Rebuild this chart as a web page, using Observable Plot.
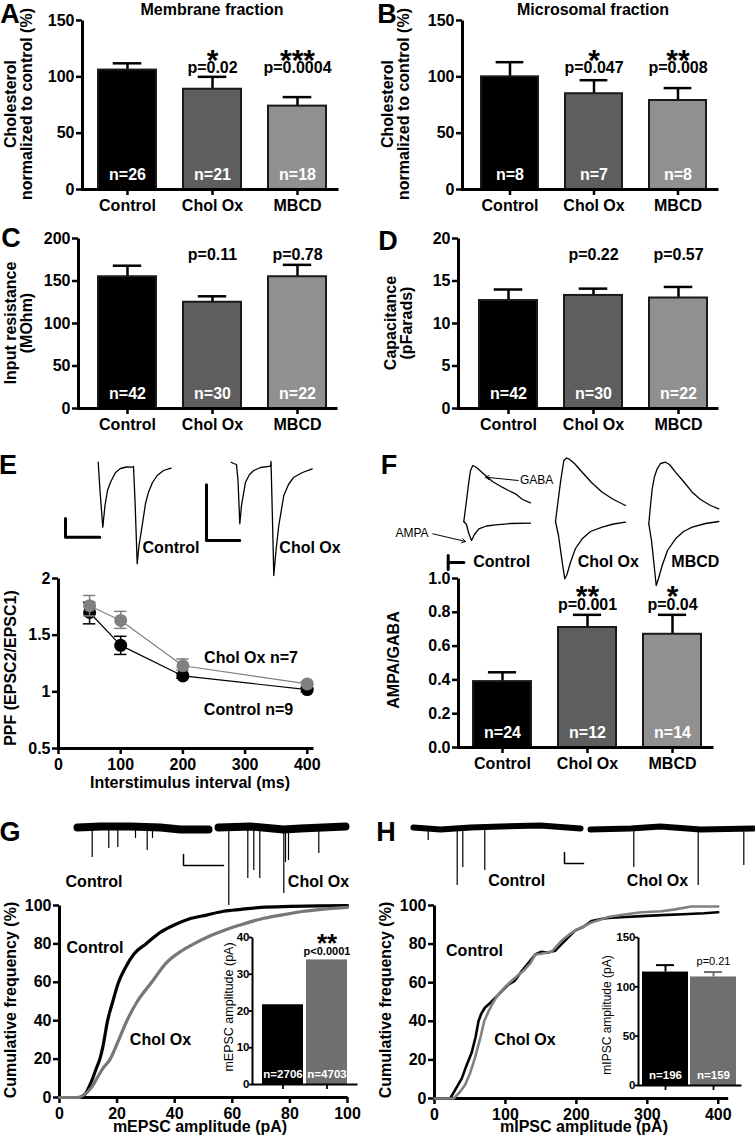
<!DOCTYPE html>
<html><head><meta charset="utf-8">
<script src="https://cdn.jsdelivr.net/npm/d3@7"></script>
<script src="https://cdn.jsdelivr.net/npm/@observablehq/plot@0.6"></script>
<style>
html,body{margin:0;padding:0;background:#fff;}
#root{position:relative;width:755px;height:1139px;overflow:hidden;background:#fff;}
.thick g[aria-label$="axis tick"]{stroke-width:2.5px}
.thick g[aria-label$="-axis"] .tick line{stroke-width:2.5px}
.thin g[aria-label$="axis tick"]{stroke-width:1.8px}
.thin g[aria-label$="-axis"] .tick line{stroke-width:1.8px}
</style>
</head><body><div id="root"></div>
<script>
// ---------- DATA ----------
const groups3 = ["Control", "Chol Ox", "MBCD"];
const barFills = ["#000000", "#5e5e5e", "#909090"];

// A: Membrane fraction
const memMean = [106, 89, 74];
const memErr = [112, 100, 82];
const memN = [26, 21, 18];
const memP = ["", "p=0.02", "p=0.0004"];
const memStars = ["", "*", "***"];
// B: Microsomal fraction
const micMean = [100, 85, 79];
const micErr = [113, 97, 90];
const micN = [8, 7, 8];
const micP = ["", "p=0.047", "p=0.008"];
const micStars = ["", "*", "**"];
// C: Input resistance
const rinMean = [155, 125, 155];
const rinErr = [168, 132, 169];
const rinN = [42, 30, 22];
const rinP = ["", "p=0.11", "p=0.78"];
// D: Capacitance
const capMean = [12.7, 13.3, 13.0];
const capErr = [14.0, 14.1, 14.3];
const capN = [42, 30, 22];
const capP = ["", "p=0.22", "p=0.57"];
// E: PPF
const ppfIntervals = [50, 100, 200, 400];
const ppfControl = [1.70, 1.41, 1.14, 1.02];
const ppfControlLo = [1.60, 1.33, 1.12, 1.00];
const ppfControlHi = [1.79, 1.49, 1.16, 1.04];
const ppfCholOx = [1.76, 1.63, 1.23, 1.07];
const ppfCholOxLo = [1.67, 1.56, 1.19, 1.05];
const ppfCholOxHi = [1.85, 1.71, 1.29, 1.09];
// E traces (time a.u., current a.u.)
const eCtrlT = [37.7,39.5,42.3,44.5,47,50,55,60,66,71.7,73,74.5,76.7,78.5,81.7,85,88,92,96.7,103,110.7];
const eCtrlI = [-6.7,-35,-71.7,-50,-35,-26.7,-17,-13,-11.5,-11.7,-11,-45,-108.3,-90,-70,-48,-36.7,-27,-20,-15,-12.7];
const eCholT = [170.7,173,176,177.5,179.3,181,185,189,193.3,200,210,210.5,211.5,213.3,215.5,218.3,223.3,228,233.3,242,251.7];
const eCholI = [-6.7,-8,-9,-25,-68.3,-50,-26.7,-19,-15,-12,-10.7,-6,-45,-120,-95,-70,-40,-29,-21.7,-17,-13.3];
const eBarCtrlT = [5, 5, 39.3];
const eBarCtrlI = [-63, -81.7, -81.7];
const eBarCholT = [146, 146, 179.3];
const eBarCholI = [-29.3, -85, -85];
// F: AMPA/GABA
const agMean = [0.39, 0.71, 0.67];
const agErr = [0.445, 0.785, 0.785];
const agN = [24, 12, 14];
const agP = ["", "p=0.001", "p=0.04"];
const agStars = ["", "**", "*"];
// F traces
const fCtrlGabaT = [83.3,86,88.3,90,92.3,96,105,112,121.7,128,135,142,150];
const fCtrlGabaI = [-71,-50,-31.7,-20,-15,-17,-25,-31,-36.7,-40,-43.3,-49,-52.3];
const fCtrlAmpaT = [83.3,86,88,91,94,98.3,106,115,130,150];
const fCtrlAmpaI = [-71,-74,-82,-90,-84,-78.3,-75.5,-74.3,-73,-72.7];
const fCholGabaT = [175,177,180,183.3,186,188.3,194,201.7,211,221.7,233,245];
const fCholGabaI = [-71,-55,-31.7,-10,-7.5,-8.3,-13,-21.7,-32,-41.7,-49,-55];
const fCholAmpaT = [175,178,181.7,184.3,186.5,190,195,201.7,210,221.7,233,245];
const fCholAmpaI = [-71,-85,-111.7,-128.3,-124,-111.7,-98,-88.3,-81,-76.7,-73.5,-71.7];
const fMbcdGabaT = [268.3,270,271.7,274,276.7,280,285,289,295,303,311.7,320,330,338.3];
const fMbcdGabaI = [-73.3,-55,-38.3,-26,-18.3,-13,-11.7,-14,-21.7,-31,-41.7,-49,-55,-58.3];
const fMbcdAmpaT = [268.3,271,273.3,275.7,278,281.7,287,295,303,311.7,325,338.3];
const fMbcdAmpaI = [-73.3,-90,-111.7,-135,-128,-115,-100,-88.3,-81,-76.7,-73,-71];
// G: mEPSC cumulative
const mepscCtrlAmp = [0,7,9,11,13,14,15,16.7,18.5,20.5,23,26,30,35,40,45,51,57,63,70,80,90,100];
const mepscCtrlCum = [0,0,2,8,16,20,26,40,50,60,68,75,80,86,90,93,95,97,98,99,99.5,99.8,100];
const mepscCholAmp = [0,6,9,11,13,15,17.6,20,23.4,27,32,37,42,46.6,52,57,63,70,77,85,91,100];
const mepscCholCum = [0,0,2,5,10,15,20,28,40,50,60,70,76,80,84,87,90,93,95,97,98,99];
const mepscMean = [21.7, 33.9];
const mepscN = [2706, 4703];
const mepscP = ["", "p<0.0001"];
const mepscStars = ["", "**"];
// G traces
const gCtrlBaseT = [7,30,60,90,110,138];
const gCtrlBaseI = [-17,-16,-16,-17,-19,-19];
const gCtrlEvT = [21.7,38.3,47.3,65,76.7,82];
const gCtrlEvI = [-47,-38,-37,-28,-40,-28];
const gCholBaseT = [148,180,213,230,275];
const gCholBaseI = [-17,-16,-19,-18,-16];
const gCholEvT = [158.3,177.3,183.3,189.3,213.3,215,218,248.3];
const gCholEvI = [-95,-68,-60,-68,-83,-52,-50,-43];
const gBarT = [113, 113, 153];
const gBarI = [-44, -55, -55];
// H: mIPSC cumulative
const mipscCtrlAmp = [0,22,30,38.5,45,52.6,58,62,66,71,80,95,104,113,123,132,142,150,160,170,179,190,198,210,221.6,235,245,270,292,320,350,380,400];
const mipscCtrlCum = [0,0,5,10.4,17,24,32,40,44,47,50,55.6,59,61,66,70,74.6,76,75.6,76.5,80,84,87,89,92,93,93.5,94,94.5,95,95.5,96,96.5];
const mipscCholAmp = [0,27,35,43,50,57,65,70,76,83,90,100,113.6,125,135,142,150,165,179,190,200,207.5,220,245,270,292,320,339,362,400];
const mipscCholCum = [0,0,3,7,13,21,32,40,45,50,54,58,62.6,66,70,74.6,75,76,81.7,85,87.5,88.6,91,94,95.5,96.5,97,98,99.5,99.5];
const mipscMean = [115, 110];
const mipscErr = [122, 115];
const mipscN = [196, 159];
const mipscP = ["", "p=0.21"];
// H traces
const hCtrlBaseT = [8,35,65,95,135,175];
const hCtrlBaseI = [-112,-114,-112,-111,-110,-113];
const hCtrlEvT = [22.7,51.7,57.3,79.3];
const hCtrlEvI = [-125,-170,-152,-155];
const hCholBaseT = [185,225,255,295,348];
const hCholBaseI = [-114,-113,-111,-114,-113];
const hCholEvT = [228.3,292.7,338.3];
const hCholEvI = [-152,-170,-150];
const hBarT = [159, 159, 178];
const hBarI = [-137, -148, -148];

// ---------- HELPERS ----------
const FONT = "'Liberation Sans', Arial, Helvetica, sans-serif";
const root = document.getElementById("root");
const PAD = 70;
const zip = (a, b) => a.map((v, i) => ({t: v, v: b[i]}));

function plotAt(box, opts, o = {}) {
  const [x0, y0, x1, y1] = box;
  const svg = Plot.plot({
    width: x1 - x0 + 2 * PAD,
    height: y1 - y0 + 2 * PAD,
    marginLeft: PAD, marginRight: PAD, marginTop: PAD, marginBottom: PAD,
    className: o.className || "thick",
    style: {background: "transparent", overflow: "visible", fontFamily: FONT,
            fontSize: (o.fontSize || 16) + "px", fontWeight: "bold", color: "#000"},
    ...opts
  });
  svg.style.position = "absolute";
  svg.style.left = (x0 - PAD) + "px";
  svg.style.top = (y0 - PAD) + "px";
  svg.style.maxWidth = "none";
  root.appendChild(svg);
  return svg;
}
function lframe(box, sw) {
  const W = box[2] - box[0], H = box[3] - box[1];
  return Plot.frame({stroke: "#000", strokeWidth: sw, strokeDasharray: `0 ${W + H} ${W + H}`});
}
function txt(s, cx, cy, {size = 16, weight = "bold", rotate = 0, color = "#000", lh = 1} = {}) {
  const d = document.createElement("div");
  d.textContent = s;
  d.style.cssText = `position:absolute;left:${cx}px;top:${cy}px;transform:translate(-50%,-50%) rotate(${rotate}deg);` +
    `font:${weight} ${size}px/${lh} ${FONT};white-space:pre;text-align:center;color:${color};`;
  root.appendChild(d);
}

function barPanel(box, c0, step, yDomain, yTicks, mean, err, n, p, stars, pY) {
  const ox = box[0] - PAD;
  const a = c0 - 0.5 * step, b = a + 3.02 * step;
  const data = groups3.map((g, i) => ({g, mean: mean[i], err: err[i], n: n[i], p: p[i],
    s: stars ? stars[i] : "", fill: barFills[i]}));
  const capInset = (0.68 * step - 28) / 2;
  plotAt(box, {
    x: {domain: groups3, range: [a - ox, b - ox], paddingInner: 0.32, paddingOuter: 0.16, align: 0.5,
        tickSize: 6, tickPadding: 4, label: null},
    y: {domain: yDomain, ticks: yTicks, tickSize: 6, tickPadding: 2, label: null},
    color: {type: "identity"},
    marks: [
      Plot.ruleX(data, {x: "g", y1: "mean", y2: "err", strokeWidth: 2.5}),
      Plot.tickY(data, {x: "g", y: "err", strokeWidth: 2.5, insetLeft: capInset, insetRight: capInset}),
      Plot.barY(data, {x: "g", y: "mean", fill: "fill", stroke: "#1a1a1a", strokeWidth: 2}),
      lframe(box, 3),
      Plot.text(data, {x: "g", y: () => yDomain[0], text: d => "n=" + d.n, fill: "white", dy: -15, fontSize: 16}),
      Plot.text(data, {x: "g", y: () => pY, text: "p", fontSize: 16}),
      Plot.text(data, {x: "g", y: () => pY, text: "s", fontSize: 30, dy: -8})
    ]
  });
}

// ---------- A-D, F bars ----------
barPanel([82, 20, 338, 189], 127, 84.5, [0, 150], [0, 50, 100, 150], memMean, memErr, memN, memP, memStars, 107.8);
barPanel([462, 20, 718, 189], 508, 84.25, [0, 150], [0, 50, 100, 150], micMean, micErr, micN, micP, micStars, 107.6);
barPanel([78, 238, 337, 408], 126, 84.75, [0, 200], [0, 50, 100, 150, 200], rinMean, rinErr, rinN, rinP, null, 181);
barPanel([458, 238, 718, 408], 507.5, 84.5, [0, 20], [0, 5, 10, 15, 20], capMean, capErr, capN, capP, null, 18.06);
barPanel([458, 578, 713, 747], 501.5, 85, [0, 1], [0, 0.2, 0.4, 0.6, 0.8, 1], agMean, agErr, agN, agP, agStars, 0.845);

// ---------- E: PPF ----------
const eBox = [58, 578, 313, 748];
const ppfCtrl = ppfIntervals.map((x, i) => ({x, y: ppfControl[i], lo: ppfControlLo[i], hi: ppfControlHi[i]}));
const ppfChol = ppfIntervals.map((x, i) => ({x, y: ppfCholOx[i], lo: ppfCholOxLo[i], hi: ppfCholOxHi[i]}));
const ppfMarks = (d, c) => [
  Plot.line(d, {x: "x", y: "y", stroke: c, strokeWidth: 1.2}),
  Plot.ruleX(d, {x: "x", y1: "lo", y2: "hi", stroke: c, strokeWidth: 1.5}),
  Plot.ruleY(d, {y: "hi", x1: q => q.x - 10, x2: q => q.x + 10, stroke: c, strokeWidth: 1.5}),
  Plot.ruleY(d, {y: "lo", x1: q => q.x - 10, x2: q => q.x + 10, stroke: c, strokeWidth: 1.5}),
  Plot.dot(d, {x: "x", y: "y", r: 6.5, fill: c})
];
plotAt(eBox, {
  x: {domain: [0, 410], ticks: [0, 100, 200, 300, 400], tickSize: 6, tickPadding: 4, label: null},
  y: {domain: [0.5, 2], ticks: [0.5, 1, 1.5, 2], tickFormat: d => String(d), tickSize: 6, tickPadding: 2, label: null},
  marks: [lframe(eBox, 3), ...ppfMarks(ppfCtrl, "#000"), ...ppfMarks(ppfChol, "#808080")]
});

// E traces
const eTBox = [60, 455, 345, 585];
plotAt(eTBox, {
  x: {domain: [0, 285], axis: null}, y: {domain: [-130, 0], axis: null},
  marks: [
    Plot.line(zip(eCtrlT, eCtrlI), {x: "t", y: "v", strokeWidth: 1.3}),
    Plot.line(zip(eCholT, eCholI), {x: "t", y: "v", strokeWidth: 1.3}),
    Plot.line(zip(eBarCtrlT, eBarCtrlI), {x: "t", y: "v", strokeWidth: 3}),
    Plot.line(zip(eBarCholT, eBarCholI), {x: "t", y: "v", strokeWidth: 3})
  ]
});

// F traces
const fTBox = [380, 450, 725, 590];
plotAt(fTBox, {
  x: {domain: [0, 345], axis: null}, y: {domain: [-140, 0], axis: null},
  marks: [
    Plot.line(zip(fCtrlGabaT, fCtrlGabaI), {x: "t", y: "v", strokeWidth: 1.3}),
    Plot.line(zip(fCtrlAmpaT, fCtrlAmpaI), {x: "t", y: "v", strokeWidth: 1.3}),
    Plot.line(zip(fCholGabaT, fCholGabaI), {x: "t", y: "v", strokeWidth: 1.3}),
    Plot.line(zip(fCholAmpaT, fCholAmpaI), {x: "t", y: "v", strokeWidth: 1.3}),
    Plot.line(zip(fMbcdGabaT, fMbcdGabaI), {x: "t", y: "v", strokeWidth: 1.3}),
    Plot.line(zip(fMbcdAmpaT, fMbcdAmpaI), {x: "t", y: "v", strokeWidth: 1.3}),
    Plot.arrow([{x1: 137.7, y1: -30, x2: 105, y2: -26.7}], {x1: "x1", y1: "y1", x2: "x2", y2: "y2", strokeWidth: 1, headLength: 6}),
    Plot.arrow([{x1: 52.3, y1: -83.3, x2: 85, y2: -91}], {x1: "x1", y1: "y1", x2: "x2", y2: "y2", strokeWidth: 1, headLength: 6}),
    Plot.line(zip([67.7, 67.7], [-105, -119]), {x: "t", y: "v", strokeWidth: 3}),
    Plot.line(zip([67.7, 83.3], [-112, -112]), {x: "t", y: "v", strokeWidth: 3})
  ]
});

// ---------- G ----------
const gBox = [59, 905, 347, 1097];
plotAt(gBox, {
  x: {domain: [0, 100], ticks: [0, 20, 40, 60, 80, 100], tickSize: 6, tickPadding: 4, label: null},
  y: {domain: [0, 100], ticks: [0, 20, 40, 60, 80, 100], tickSize: 6, tickPadding: 2, label: null},
  marks: [
    lframe(gBox, 3),
    Plot.line(zip(mepscCtrlAmp, mepscCtrlCum), {x: "t", y: "v", stroke: "#000", strokeWidth: 3.2, curve: "monotone-x"}),
    Plot.line(zip(mepscCholAmp, mepscCholCum), {x: "t", y: "v", stroke: "#777", strokeWidth: 3.2, curve: "monotone-x"})
  ]
});
// G inset
const giBox = [252, 937, 357, 1084];
const giData = ["Control", "Chol Ox"].map((g, i) => ({g, m: mepscMean[i], n: mepscN[i], p: mepscP[i], s: mepscStars[i], fill: ["#000", "#6f6f6f"][i]}));
{
  const ox = giBox[0] - PAD, s = 45, a = 252.1;
  plotAt(giBox, {
    x: {domain: ["Control", "Chol Ox"], range: [a - ox, a + s * 2.33 - ox], paddingInner: 0.07, paddingOuter: 0.2, align: 0.5,
        tickSize: 5, tickPadding: 2, tickFormat: () => "", label: null},
    y: {domain: [0, 40], ticks: [0, 10, 20, 30, 40], tickSize: 3, tickPadding: 0, label: null},
    color: {type: "identity"},
    marks: [
      Plot.barY(giData, {x: "g", y: "m", fill: "fill"}),
      lframe(giBox, 2),
      Plot.text(giData, {x: "g", y: () => 0, text: d => "n=" + d.n, fill: "white", dy: -10, fontSize: 11.5}),
      Plot.text(giData, {x: "g", y: () => 36.2, text: "p", fontSize: 11}),
      Plot.text(giData, {x: "g", y: () => 36.2, text: "s", fontSize: 26, dy: -8})
    ]
  }, {fontSize: 11.5, className: "thin"});
}
// G traces
const gTBox = [70, 810, 350, 910];
plotAt(gTBox, {
  x: {domain: [0, 280], axis: null}, y: {domain: [-100, 0], axis: null},
  marks: [
    Plot.line(zip(gCtrlBaseT, gCtrlBaseI), {x: "t", y: "v", strokeWidth: 8}),
    Plot.line(zip(gCholBaseT, gCholBaseI), {x: "t", y: "v", strokeWidth: 8}),
    Plot.ruleX(zip(gCtrlEvT, gCtrlEvI), {x: "t", y1: () => -18, y2: "v", strokeWidth: 1.2}),
    Plot.ruleX(zip(gCholEvT, gCholEvI), {x: "t", y1: () => -18, y2: "v", strokeWidth: 1.2}),
    Plot.line(zip(gBarT, gBarI), {x: "t", y: "v", strokeWidth: 1.5})
  ]
});

// ---------- H ----------
const hBox = [434.3, 905, 728, 1098];
plotAt(hBox, {
  x: {domain: [0, 414], ticks: [0, 100, 200, 300, 400], tickSize: 6, tickPadding: 4, label: null},
  y: {domain: [0, 100], ticks: [0, 20, 40, 60, 80, 100], tickSize: 6, tickPadding: 2, label: null},
  marks: [
    lframe(hBox, 3),
    Plot.line(zip(mipscCtrlAmp, mipscCtrlCum), {x: "t", y: "v", stroke: "#000", strokeWidth: 2.6}),
    Plot.line(zip(mipscCholAmp, mipscCholCum), {x: "t", y: "v", stroke: "#808080", strokeWidth: 2.6})
  ]
});
const hiBox = [638, 937, 741, 1085];
const hiData = ["Control", "Chol Ox"].map((g, i) => ({g, m: mipscMean[i], e: mipscErr[i], n: mipscN[i], p: mipscP[i], fill: ["#000", "#6f6f6f"][i]}));
{
  const ox = hiBox[0] - PAD, s = 48.5, a = 638;
  plotAt(hiBox, {
    x: {domain: ["Control", "Chol Ox"], range: [a - ox, a + s * 2.114 - ox], paddingInner: 0.05, paddingOuter: 0.082, align: 0.5,
        tickSize: 5, tickPadding: 2, tickFormat: () => "", label: null},
    y: {domain: [0, 150], ticks: [0, 50, 100, 150], tickSize: 3, tickPadding: 0, label: null},
    color: {type: "identity"},
    marks: [
      Plot.ruleX(hiData, {x: "g", y1: "m", y2: "e", strokeWidth: 2, stroke: "fill"}),
      Plot.tickY(hiData, {x: "g", y: "e", strokeWidth: 2, stroke: "fill", insetLeft: 14, insetRight: 14}),
      Plot.barY(hiData, {x: "g", y: "m", fill: "fill"}),
      lframe(hiBox, 2),
      Plot.text(hiData, {x: "g", y: () => 0, text: d => "n=" + d.n, fill: "white", dy: -10, fontSize: 11.5}),
      Plot.text(hiData, {x: "g", y: () => 126, text: "p", fontSize: 11, fontWeight: "normal"})
    ]
  }, {fontSize: 11.5, className: "thin"});
}
// H traces
const hTBox = [405, 715, 755, 890];
plotAt(hTBox, {
  x: {domain: [0, 350], axis: null}, y: {domain: [-175, 0], axis: null},
  marks: [
    Plot.line(zip(hCtrlBaseT, hCtrlBaseI), {x: "t", y: "v", strokeWidth: 6}),
    Plot.line(zip(hCholBaseT, hCholBaseI), {x: "t", y: "v", strokeWidth: 6}),
    Plot.ruleX(zip(hCtrlEvT, hCtrlEvI), {x: "t", y1: () => -113, y2: "v", strokeWidth: 1.2}),
    Plot.ruleX(zip(hCholEvT, hCholEvI), {x: "t", y1: () => -113, y2: "v", strokeWidth: 1.2}),
    Plot.line(zip(hBarT, hBarI), {x: "t", y: "v", strokeWidth: 1.5})
  ]
});

// ---------- TEXT LABELS ----------
[["A", 10, 15], ["B", 387, 15], ["C", 11, 239], ["D", 388, 242], ["E", 8, 466], ["F", 389, 466], ["G", 10, 833], ["H", 386, 833]]
  .forEach(([s, x, y]) => txt(s, x, y, {size: 27, lh: 0.8}));
txt("Membrane fraction", 212, 10);
txt("Microsomal fraction", 593, 10);
txt("Cholesterol\nnormalized to control (%)", 19, 104, {rotate: -90});
txt("Cholesterol\nnormalized to control (%)", 396, 104, {rotate: -90});
txt("Input resistance\n(MOhm)", 19, 323, {rotate: -90});
txt("Capacitance\n(pFarads)", 399, 323, {rotate: -90});
txt("PPF (EPSC2/EPSC1)", 11, 668, {rotate: -90});
txt("AMPA/GABA", 393.5, 660, {rotate: -90});
txt("Interstimulus interval (ms)", 190, 783);
txt("Chol Ox n=7", 251, 658);
txt("Control n=9", 248.5, 710);
txt("Control", 171, 548);
txt("Chol Ox", 310, 548);
txt("GABA", 536.7, 480, {size: 12, weight: "normal"});
txt("AMPA", 412, 533.3, {size: 12, weight: "normal"});
txt("Control", 501.7, 561.7);
txt("Chol Ox", 608.3, 561.7);
txt("MBCD", 695.3, 561.7);
txt("Control", 94, 881.5);
txt("Chol Ox", 318.5, 881.5);
txt("Control", 516.7, 880.5);
txt("Chol Ox", 657.5, 880.5);
txt("Cumulative frequency (%)", 11, 1000, {rotate: -90});
txt("Cumulative frequency (%)", 386, 1000, {rotate: -90});
txt("Control", 95, 947.5);
txt("Chol Ox", 160.5, 1040);
txt("Control", 474.5, 951);
txt("Chol Ox", 525, 1040);
txt("mEPSC amplitude (pA)", 200, 1127);
txt("mIPSC amplitude (pA)", 584, 1127);
txt("mEPSC amplitude (pA)", 229, 1007, {size: 12.5, weight: "normal", rotate: -90});
txt("mIPSC amplitude (pA)", 607, 1015, {size: 12, weight: "normal", rotate: -90});
</script>
</body></html>
